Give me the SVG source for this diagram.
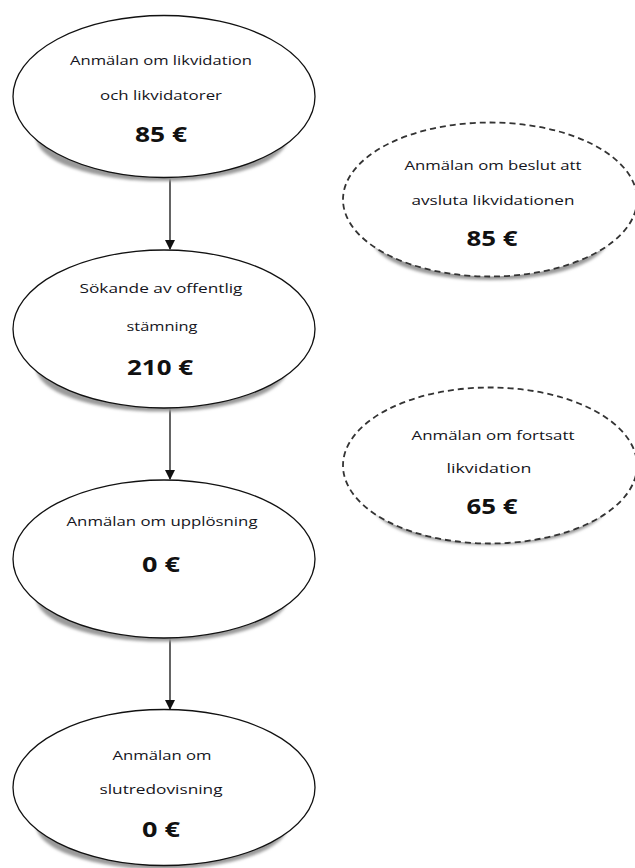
<svg xmlns="http://www.w3.org/2000/svg" width="635" height="868" viewBox="0 0 635 868">
<style>
.node{fill:#ffffff;stroke:#111111;stroke-width:1.3}
.dnode{fill:#ffffff;stroke:#333333;stroke-width:1.8;stroke-dasharray:6 4}
.shadow{fill:#9a9a9a;filter:url(#blur)}
.t{font-family:"Open Sans","Liberation Sans",sans-serif;font-size:13.5px;fill:#141420;text-anchor:middle}
.p{font-family:"Open Sans","Liberation Sans",sans-serif;font-size:21px;font-weight:bold;fill:#111111;text-anchor:middle}
.edge{stroke:#111111;stroke-width:1.3;fill:none;marker-end:url(#arrow)}
</style>
<defs>
<filter id="blur" x="-20%" y="-20%" width="140%" height="140%"><feGaussianBlur stdDeviation="1.5"/></filter>
<marker id="arrow" markerWidth="10" markerHeight="12" refX="9" refY="5" orient="auto" markerUnits="userSpaceOnUse" viewBox="0 0 10 10">
<path d="M0,0 L10,5 L0,10 z" fill="#111111"/>
</marker>
</defs>
<rect width="635" height="868" fill="#ffffff"/>

<g id="connectors">
<line class="edge" x1="170" y1="178" x2="170" y2="249"/>
<line class="edge" x1="170" y1="408" x2="170" y2="479"/>
<line class="edge" x1="170" y1="638" x2="170" y2="709"/>
</g>

<g id="n1">
<ellipse class="shadow" cx="162" cy="137" rx="126" ry="44"/>
<ellipse class="node" cx="164" cy="96.5" rx="151" ry="81"/>
<text class="t" x="161" y="65" textLength="182" lengthAdjust="spacingAndGlyphs">Anmälan om likvidation</text>
<text class="t" x="161" y="100" textLength="122" lengthAdjust="spacingAndGlyphs">och likvidatorer</text>
<text class="p" x="161" y="142" textLength="52" lengthAdjust="spacingAndGlyphs">85 €</text>
</g>

<g id="n2">
<ellipse class="shadow" cx="162" cy="367.5" rx="126" ry="44"/>
<ellipse class="node" cx="164" cy="329" rx="151" ry="79"/>
<text class="t" x="161" y="293" textLength="163" lengthAdjust="spacingAndGlyphs">Sökande av offentlig</text>
<text class="t" x="162" y="331" textLength="71" lengthAdjust="spacingAndGlyphs">stämning</text>
<text class="p" x="160" y="375" textLength="66" lengthAdjust="spacingAndGlyphs">210 €</text>
</g>

<g id="n3">
<ellipse class="shadow" cx="162" cy="597.5" rx="126" ry="44"/>
<ellipse class="node" cx="164" cy="559" rx="151" ry="79"/>
<text class="t" x="162" y="526" textLength="191" lengthAdjust="spacingAndGlyphs">Anmälan om upplösning</text>
<text class="p" x="161" y="572" textLength="38" lengthAdjust="spacingAndGlyphs">0 €</text>
</g>

<g id="n4">
<ellipse class="shadow" cx="162" cy="825" rx="126" ry="44"/>
<ellipse class="node" cx="164" cy="787.5" rx="151" ry="78"/>
<text class="t" x="162" y="760" textLength="99" lengthAdjust="spacingAndGlyphs">Anmälan om</text>
<text class="t" x="161" y="794" textLength="123" lengthAdjust="spacingAndGlyphs">slutredovisning</text>
<text class="p" x="161" y="837" textLength="38" lengthAdjust="spacingAndGlyphs">0 €</text>
</g>

<g id="n5">
<ellipse class="shadow" cx="490" cy="238" rx="118" ry="42"/>
<ellipse class="dnode" cx="490" cy="199.5" rx="147" ry="77"/>
<text class="t" x="493" y="170" textLength="177" lengthAdjust="spacingAndGlyphs">Anmälan om beslut att</text>
<text class="t" x="493" y="205" textLength="163" lengthAdjust="spacingAndGlyphs">avsluta likvidationen</text>
<text class="p" x="492" y="246" textLength="51" lengthAdjust="spacingAndGlyphs">85 €</text>
</g>

<g id="n6">
<ellipse class="shadow" cx="490" cy="503" rx="118" ry="42"/>
<ellipse class="dnode" cx="490" cy="465.5" rx="147" ry="78"/>
<text class="t" x="493" y="440" textLength="163" lengthAdjust="spacingAndGlyphs">Anmälan om fortsatt</text>
<text class="t" x="489" y="473" textLength="85" lengthAdjust="spacingAndGlyphs">likvidation</text>
<text class="p" x="492" y="514" textLength="51" lengthAdjust="spacingAndGlyphs">65 €</text>
</g>
</svg>
